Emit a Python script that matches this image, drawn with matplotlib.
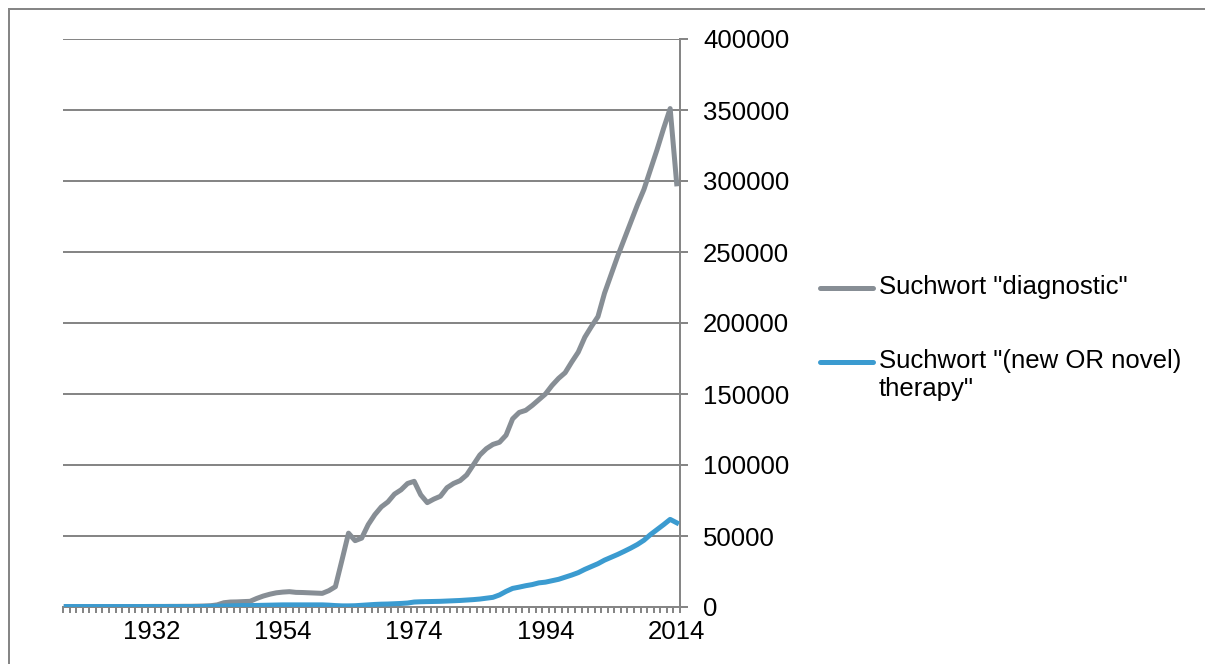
import matplotlib
matplotlib.use("Agg")
import matplotlib.pyplot as plt
from matplotlib.lines import Line2D
from matplotlib.patches import Rectangle
import numpy as np

plt.rcParams['font.family'] = ['Liberation Sans', 'DejaVu Sans']

# categories (years, some missing in the source data)
years = (list(range(1919, 1933)) + list(range(1933, 1944))
         + list(range(1946, 1955)) + list(range(1955, 2015)))

diagnostic = [
    300, 300, 300, 300, 300, 300, 300, 300, 300, 300,
    300, 350, 350, 400, 400, 400, 450, 450, 500, 500,
    600, 700, 900, 1500, 3000, 3500, 3600, 3800, 4000, 6000,
    7700, 9000, 10000, 10500, 10800, 10300, 10200, 10000, 9800, 9600,
    11500, 14300, 33000, 52000, 46700, 48500, 58000, 65000, 70500, 74000,
    79500, 82500, 87000, 88500, 79000, 73500, 76000, 78000, 84000, 87000,
    89000, 93000, 100000, 107000, 111500, 114500, 116000, 121000, 132500, 137000,
    138500, 142000, 146000, 150000, 156000, 161000, 165000, 172500, 179500, 190000,
    197500, 204500, 221000, 234000, 247000, 259000, 271000, 283000, 294000, 308000,
    322000, 337000, 351000, 298000,
]

therapy = [
    300, 300, 300, 300, 300, 300, 300, 300, 300, 300,
    300, 300, 300, 300, 300, 300, 300, 300, 300, 300,
    300, 400, 500, 600, 700, 800, 900, 1000, 1000, 1100,
    1200, 1300, 1400, 1500, 1500, 1500, 1500, 1500, 1500, 1500,
    1300, 1000, 800, 800, 900, 1200, 1500, 1800, 2000, 2100,
    2300, 2500, 2800, 3500, 3700, 3800, 3900, 4000, 4200, 4400,
    4600, 4900, 5200, 5600, 6200, 6800, 8500, 11000, 13100, 14000,
    15000, 15800, 17000, 17500, 18500, 19500, 21000, 22500, 24200, 26500,
    28500, 30500, 33000, 35000, 37000, 39200, 41500, 44000, 47000, 51000,
    54500, 58000, 61700, 59300,
]

label_years = [1932, 1954, 1974, 1994, 2014]
series_names = ['Suchwort "diagnostic"', 'Suchwort "(new OR novel)\ntherapy"']
colors = ['#878e95', '#3b9bd0']
axcol = '#868686'

W, H = 1205, 664
px = 72 / 100  # one pixel in points
fig = plt.figure(figsize=(W / 100, H / 100), dpi=100)
ax = fig.add_axes([63 / W, 1 - 607 / H, (680 - 63) / W, (607 - 39) / H])

x = np.arange(len(years))
ax.plot(x, diagnostic, color=colors[0], lw=5 * px, solid_joinstyle='round', zorder=3)
ax.plot(x, therapy, color=colors[1], lw=5 * px, solid_joinstyle='round', zorder=4)

ax.set_xlim(-0.5, len(years) - 0.5)
ax.set_ylim(0, 400000)

# y axis on the right
ax.yaxis.tick_right()
ax.set_yticks(np.arange(0, 400001, 50000))
ax.yaxis.grid(True, color=axcol, lw=2 * px)
ax.set_axisbelow(True)
ax.tick_params(axis='y', length=8 * px, width=2 * px, color=axcol, pad=15 * px,
               labelsize=18.5, labelcolor='black')
for t in ax.get_yticklabels():
    t.set_horizontalalignment('left')

# category axis
ax.set_xticks([years.index(y) for y in label_years])
ax.set_xticklabels([str(y) for y in label_years])
ax.set_xticks(np.arange(-0.5, len(years), 1), minor=True)
ax.tick_params(axis='x', which='major', length=0, pad=13 * px, labelsize=18.5)
ax.tick_params(axis='x', which='minor', length=6 * px, width=2 * px, color=axcol)

for s in ['left', 'top']:
    ax.spines[s].set_visible(False)
for s in ['right', 'bottom']:
    ax.spines[s].set_color(axcol)
    ax.spines[s].set_linewidth(2 * px)

# legend on the right
leg_y = [288, 362]
for c, name, yy in zip(colors, series_names, leg_y):
    fig.add_artist(Line2D([820 / W, 873 / W], [1 - yy / H, 1 - yy / H],
                          color=c, lw=5 * px, solid_capstyle='round'))
    fig.text(879 / W, 1 - (yy - 13) / H, name, fontsize=18.5, va='top',
             ha='left', linespacing=1.2)

# chart border
fig.add_artist(Rectangle((9 / W, -0.1), 1.1, 1 - 9 / H + 0.1,
                         transform=fig.transFigure, fill=False,
                         edgecolor=axcol, lw=2 * px))

fig.savefig('out.png', dpi=100)
